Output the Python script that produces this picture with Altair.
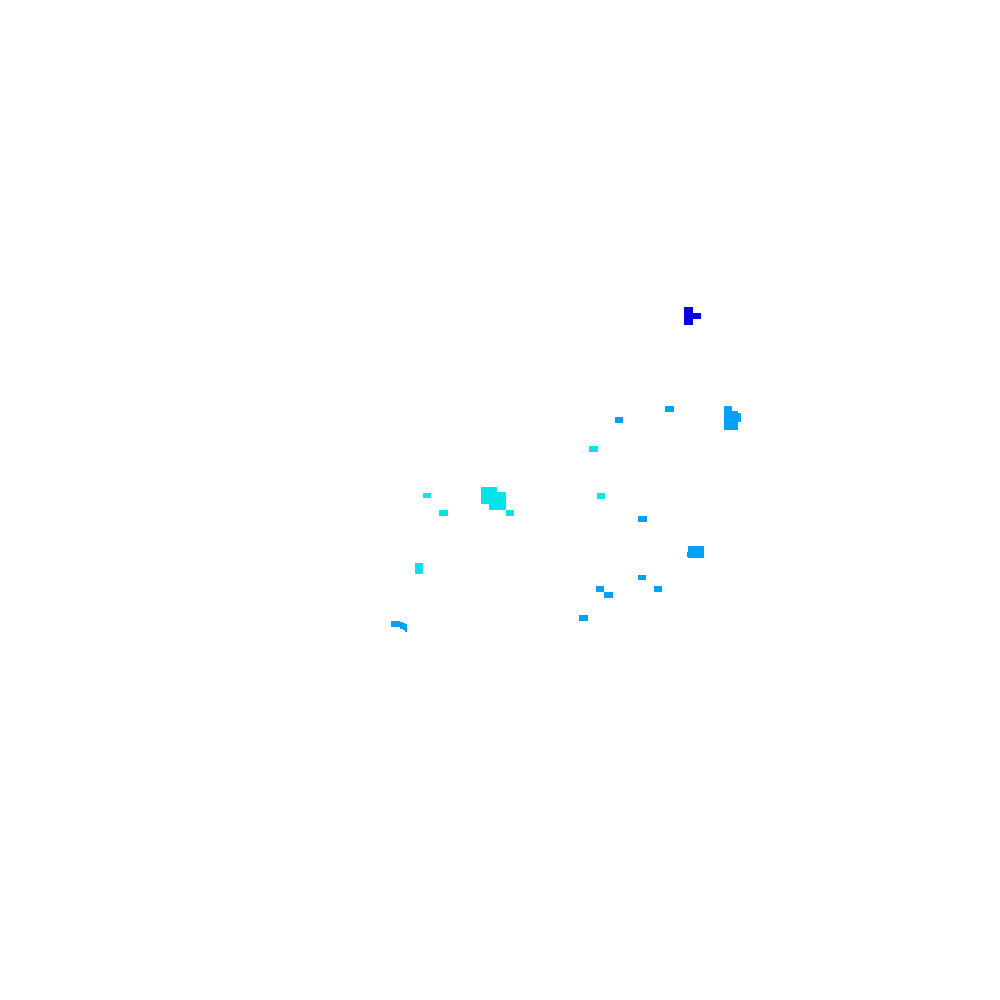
import altair as alt
import pandas as pd

# Rectangular patches (in page-unit coordinates) and their class
x0 = [684, 693, 724, 732, 737, 665, 615, 589, 481, 489, 506, 423, 439, 415, 391, 400, 403, 405,
      597, 638, 688, 687, 638, 596, 604, 654, 579]
x1 = [693, 701, 732, 738, 741, 674, 623, 598, 497, 506, 514, 431, 448, 423, 400, 403, 405, 407,
      605, 647, 704, 689, 646, 604, 613, 662, 588]
y0 = [307, 313, 406, 411, 413, 406, 417, 446, 487, 492, 510, 493, 510, 563, 621, 622, 623, 624,
      493, 516, 546, 552, 575, 586, 592, 586, 615]
y1 = [325, 319, 430, 430, 422, 412, 423, 452, 504, 510, 516, 498, 516, 574, 627, 629, 630, 632,
      499, 522, 558, 557, 580, 592, 598, 592, 621]
level = ["high", "high", "mid", "mid", "mid", "mid", "mid", "low", "low", "low", "low", "low", "low",
         "low", "mid", "mid", "mid", "mid", "low", "mid", "mid", "mid", "mid", "mid", "mid", "mid", "mid"]

df = pd.DataFrame({"x0": x0, "x1": x1, "y0": y0, "y1": y1, "level": level})

chart = alt.Chart(df).mark_rect(strokeWidth=0).encode(
    x=alt.X("x0:Q", scale=alt.Scale(domain=[8, 992], nice=False, zero=False), axis=None),
    x2="x1:Q",
    y=alt.Y("y0:Q", scale=alt.Scale(domain=[8, 992], nice=False, zero=False, reverse=True), axis=None),
    y2="y1:Q",
    color=alt.Color("level:N",
                    scale=alt.Scale(domain=["high", "mid", "low"],
                                    range=["#0500E6", "#00A0F2", "#00E6E6"]),
                    legend=None),
).properties(
    width=984, height=984, padding=0, autosize="none"
).configure_view(stroke=None)

chart.save("out.html", embed_options={"renderer": "svg", "actions": False})
